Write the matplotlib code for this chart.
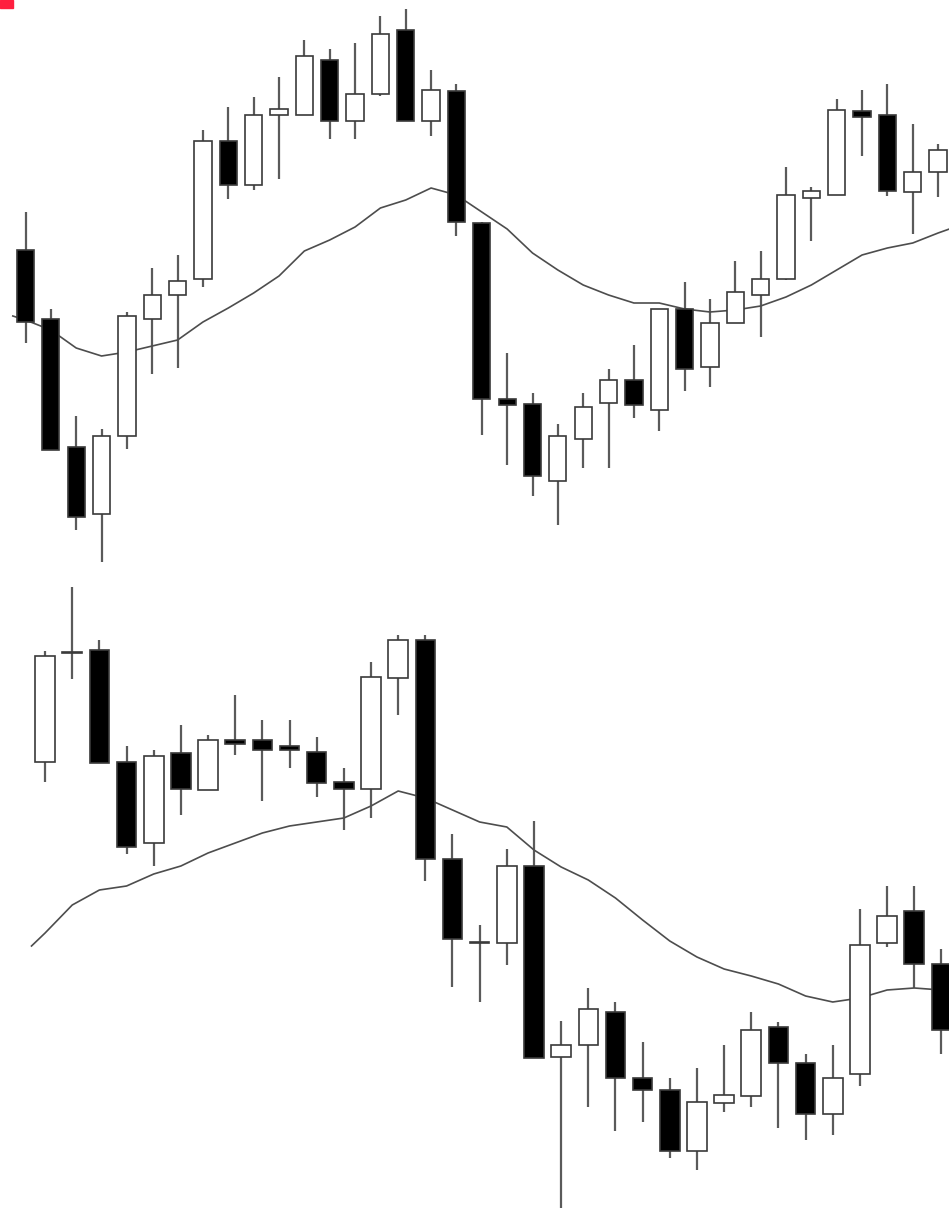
import numpy as np
import matplotlib
matplotlib.use('Agg')
import matplotlib.pyplot as plt
from matplotlib.patches import Rectangle

# top panel candles (open, high, low, close), price units
top_open = [350, 281, 153, 86, 164, 281, 305, 321, 459, 415, 485, 485, 540,
            479, 506, 570, 479, 509, 377, 201, 196, 119, 161, 197, 220, 190,
            291, 233, 277, 305, 321, 402, 405, 489, 485, 408, 428]
top_high = [388, 291, 184, 171, 288, 332, 345, 470, 493, 503, 523, 560, 551,
            557, 584, 591, 530, 516, 378, 247, 207, 176, 207, 231, 255, 291,
            318, 301, 339, 349, 433, 413, 501, 510, 516, 476, 456]
top_low = [257, 150, 70, 38, 151, 226, 232, 313, 401, 410, 421, 485, 461,
           461, 504, 479, 464, 364, 165, 135, 104, 75, 132, 132, 182, 169,
           209, 213, 277, 263, 320, 359, 405, 444, 404, 366, 403]
top_close = [278, 150, 83, 164, 284, 305, 319, 459, 415, 485, 491, 544, 479,
             506, 566, 479, 510, 378, 201, 195, 124, 164, 193, 220, 195, 291,
             231, 277, 308, 321, 405, 409, 490, 483, 409, 428, 450]
top_ma = [284, 280, 270, 252, 244, 248, 254, 260, 278, 292, 307, 324, 349,
          360, 373, 392, 400, 412, 405, 388, 371, 347, 330, 315, 305, 297,
          297, 291, 288, 290, 294, 303, 315, 330, 345, 352, 357, 367, 376]

# bottom panel candles
bot_open = [458, 567, 570, 458, 377, 467, 430, 480, 480, 474, 468, 438, 431,
            542, 580, 361, 277, 277, 354, 163, 175, 208, 142, 130, 69, 117,
            124, 193, 157, 106, 146, 277, 309, 256]
bot_high = [569, 633, 580, 474, 470, 495, 485, 525, 500, 500, 483, 452, 558,
            585, 585, 386, 295, 371, 399, 199, 232, 218, 178, 142, 152, 175,
            208, 198, 166, 175, 311, 334, 334, 271]
bot_low = [438, 541, 457, 366, 354, 405, 430, 465, 419, 452, 423, 390, 402,
           505, 339, 233, 218, 255, 162, 12, 113, 89, 98, 62, 50, 108,
           113, 92, 80, 85, 134, 273, 232, 166]
bot_close = [564, 567, 457, 373, 464, 431, 480, 476, 470, 470, 437, 431, 543,
             580, 361, 281, 277, 354, 162, 175, 211, 142, 130, 69, 118, 125,
             190, 157, 106, 142, 275, 304, 256, 190]
bot_ma = [274, 287, 315, 330, 334, 346, 354, 367, 377, 387, 394, 398, 402,
          414, 429, 422, 410, 398, 393, 370, 353, 340, 322, 300, 279, 263,
          251, 244, 236, 224, 218, 222, 230, 232, 230, 228]

WICK = '#5a5a5a'
EDGE = '#3a3a3a'


def draw_candles(ax, o, h, l, c, ma, width):
    for i in range(len(o)):
        ax.vlines(i, l[i], h[i], color=WICK, lw=1.6, zorder=1)
    # moving average starts half a bar to the left of the first candle
    ma_x = np.r_[-0.5, np.arange(len(ma) - 1)]
    ax.plot(ma_x, ma, color='#4d4d4d', lw=1.2, zorder=2)
    for i in range(len(o)):
        up = c[i] >= o[i]
        bottom = min(o[i], c[i])
        height = max(abs(c[i] - o[i]), 1.5)
        ax.add_patch(Rectangle((i - width / 2, bottom), width, height,
                               facecolor='white' if up else 'black',
                               edgecolor=EDGE, lw=1.2, zorder=3))
    ax.set_axis_off()


fig = plt.figure(figsize=(9.49, 12.09), dpi=100)

ax1 = fig.add_axes([0, 1 - 575 / 1209, 1, 575 / 1209])
draw_candles(ax1, top_open, top_high, top_low, top_close, top_ma, 0.68)
ax1.set_xlim(-1.006, 36.43)
ax1.set_ylim(25, 600)

ax2 = fig.add_axes([0, 0, 1, 634 / 1209])
draw_candles(ax2, bot_open, bot_high, bot_low, bot_close, bot_ma, 0.72)
ax2.set_xlim(-1.66, 33.28)
ax2.set_ylim(11, 645)

# small red marker in the corner
fig.patches.append(Rectangle((0, 1 - 8 / 1209), 13 / 949, 8 / 1209,
                             transform=fig.transFigure, color='#ff1f3f'))

fig.savefig('out.png', dpi=100)
